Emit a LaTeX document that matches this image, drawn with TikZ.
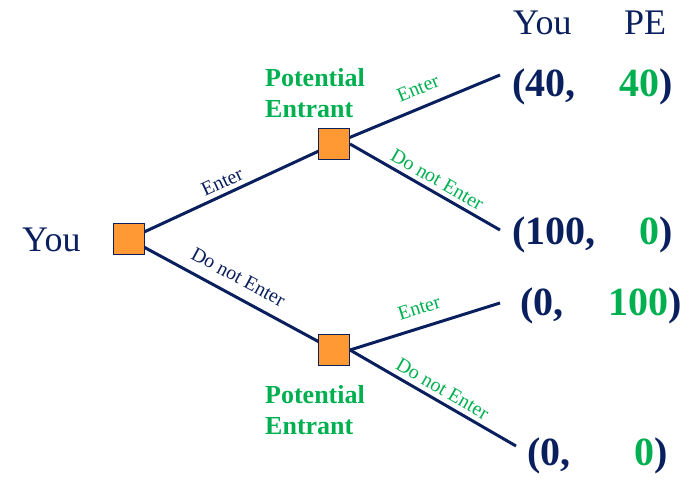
\documentclass[tikz,border=0pt]{standalone}
\usepackage{fontspec}
\setmainfont{Liberation Serif}
\usetikzlibrary{backgrounds}
\definecolor{navy}{HTML}{0A1F5E}
\definecolor{pegreen}{HTML}{00B050}
\definecolor{boxorange}{HTML}{FF9933}
\begin{document}
\begin{tikzpicture}[x=1pt,y=-1pt,
  decbox/.style={draw=navy, fill=boxorange, line width=1pt, minimum size=31pt, inner sep=0pt},
  branch/.style={draw=navy, line width=3pt},
  lbl/.style={sloped, above, inner sep=4.5pt, font=\fontsize{20}{20}\selectfont},
  navylbl/.style={lbl, text=navy},
  greenlbl/.style={lbl, text=pegreen},
  player/.style={anchor=base west, inner sep=0pt, text=navy, font=\fontsize{36}{40}\selectfont},
  petext/.style={anchor=base west, inner sep=0pt, text=pegreen, font=\fontsize{26}{30}\selectfont\bfseries},
  payL/.style={anchor=base west, inner sep=0pt, text=navy, font=\fontsize{40}{48}\selectfont\bfseries},
  payR/.style={anchor=base east, inner sep=0pt, text=navy, font=\fontsize{40}{48}\selectfont\bfseries}]
\useasboundingbox (0,0) rectangle (691,481);

% decision nodes
\node[decbox] (root) at (129,239) {};
\node[decbox] (pe1) at (334,144) {};
\node[decbox] (pe2) at (334,350) {};

% terminal points
\coordinate (e1) at (500,75);
\coordinate (e2) at (500,230);
\coordinate (e3) at (500,303);
\coordinate (e4) at (516,446);

\begin{scope}[on background layer]
\draw[branch] (root.center) -- node[navylbl, pos=0.48] {Enter} (pe1.center);
\draw[branch] (root.center) -- node[navylbl, pos=0.49, above=6pt] {Do not Enter} (pe2.center);
\draw[branch] (pe1.center) -- node[greenlbl, pos=0.55, above=6.5pt] {Enter} (e1);
\draw[branch] (pe1.east) -- node[greenlbl, pos=0.54] {Do not Enter} (e2);
\draw[branch] (pe2.east) -- node[greenlbl, pos=0.50, above=7pt] {Enter} (e3);
\draw[branch] (pe2.east) -- node[greenlbl, pos=0.52] {Do not Enter} (e4);
\end{scope}

% player labels
\node[player] (youL) at (22,252) {You};
\node[player] (youH) at (513,35) {You};
\node[player] (peH) at (624,35) {PE};

\node[petext] (pe1a) at (265,87) {Potential};
\node[petext] (pe1b) at (265,118) {Entrant};
\node[petext] (pe2a) at (265,403) {Potential};
\node[petext] (pe2b) at (265,434) {Entrant};

% payoffs
\node[payL] (p1a) at (512,97) {(40,};
\node[payR] (p1b) at (673,97) {\textcolor{pegreen}{40})};
\node[payL] (p2a) at (512,245) {(100,};
\node[payR] (p2b) at (673,245) {\textcolor{pegreen}{0})};
\node[payL] (p3a) at (520,315) {(0,};
\node[payR] (p3b) at (682,315) {\textcolor{pegreen}{100})};
\node[payL] (p4a) at (527,465) {(0,};
\node[payR] (p4b) at (668,465) {\textcolor{pegreen}{0})};
\end{tikzpicture}
\end{document}
